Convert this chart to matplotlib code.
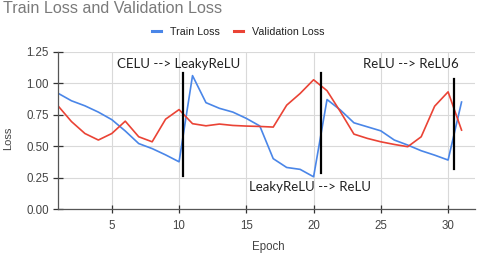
import numpy as np
import matplotlib
matplotlib.use("Agg")
import matplotlib.pyplot as plt

# values
epochs = list(range(1, 32))
train_loss = [0.92, 0.86, 0.82, 0.77, 0.71, 0.62, 0.52, 0.48, 0.43, 0.375,
              1.06, 0.845, 0.80, 0.77, 0.72, 0.66, 0.40, 0.33, 0.315, 0.256,
              0.87, 0.786, 0.685, 0.653, 0.621, 0.548, 0.508, 0.463, 0.428, 0.389,
              0.85]
val_loss = [0.82, 0.695, 0.60, 0.548, 0.60, 0.698, 0.574, 0.534, 0.714, 0.79,
            0.678, 0.661, 0.675, 0.664, 0.659, 0.656, 0.651, 0.825, 0.918, 1.027,
            0.94, 0.772, 0.595, 0.561, 0.534, 0.513, 0.495, 0.574, 0.817, 0.931,
            0.627]

# activation switches: (x, y_low, y_high)
switch_x = [10.3, 20.52, 30.43]
switch_lo = [0.264, 0.288, 0.317]
switch_hi = [1.077, 1.077, 1.03]
notes = ["CELU --> LeakyReLU", "LeakyReLU --> ReLU", "ReLU --> ReLU6"]
note_x = [5.4, 15.2, 23.65]
note_y = [1.156, 0.177, 1.155]

blue = "#4a86e8"
red = "#ea4335"
plt.rcParams['font.family'] = ['Liberation Sans', 'DejaVu Sans']

fig = plt.figure(figsize=(4.8, 2.54), dpi=100)
ax = fig.add_axes([58/480, 1-209/254, 417/480, 157.3/254])

ax.plot(epochs, train_loss, color=blue, lw=1.2, label="Train Loss")
ax.plot(epochs, val_loss, color=red, lw=1.2, label="Validation Loss")
for x, lo, hi in zip(switch_x, switch_lo, switch_hi):
    ax.plot([x, x], [lo, hi], color="black", lw=1.6)
for t, x, y in zip(notes, note_x, note_y):
    ax.text(x, y, t, fontsize=9.5, family=['Lato', 'DejaVu Sans'],
            color="#222222", ha="left", va="center")

ax.set_xlim(1, 32)
ax.set_ylim(0, 1.25)
ax.set_xticks([5, 10, 15, 20, 25, 30])
ax.set_yticks([0, 0.25, 0.5, 0.75, 1.0, 1.25])
ax.set_yticklabels(["0.00", "0.25", "0.50", "0.75", "1.00", "1.25"])
ax.grid(True, color="#d9d9d9", lw=0.8)
ax.set_axisbelow(True)
for s in ["top", "right"]:
    ax.spines[s].set_visible(False)
for s in ["left", "bottom"]:
    ax.spines[s].set_color("#555555")
    ax.spines[s].set_linewidth(0.9)
ax.tick_params(axis="y", direction="inout", length=7, width=0.9, color="#333333",
               pad=3, labelsize=8.3, labelcolor="#444444")
ax.tick_params(axis="x", direction="inout", length=5.5, width=0.9, color="#333333",
               pad=5, labelsize=8.3, labelcolor="#444444")

ax.set_xlabel("Epoch", fontsize=8.3, color="#444444", va="center")
ax.set_ylabel("Loss", fontsize=8.0, color="#444444", va="center")
ax.xaxis.set_label_coords((268-58)/417, (209-246.7)/157.3)
ax.yaxis.set_label_coords((8-58)/417, (209-138)/157.3)

fig.text(3/480, 1-8.5/254, "Train Loss and Validation Loss", fontsize=11.6,
         color="#7a7a7a", ha="left", va="center")
fig.legend(loc="center", bbox_to_anchor=(238/480, 1-31.7/254), ncol=2,
           frameon=False, fontsize=7.7, handlelength=0.9, handletextpad=0.8,
           columnspacing=1.3, labelcolor="#222222")
for h in fig.legends[0].legend_handles:
    h.set_linewidth(2.2)

fig.savefig("out.png", dpi=100)
